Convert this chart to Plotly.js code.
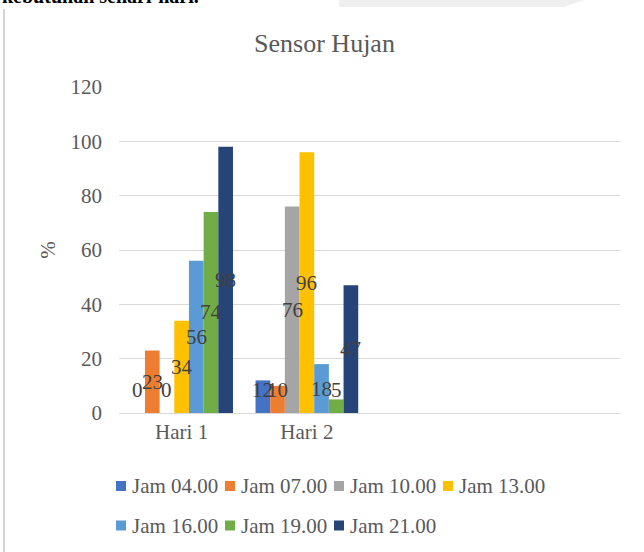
<!DOCTYPE html>
<html>
<head>
<meta charset="utf-8">
<script src="https://cdn.plot.ly/plotly-3.0.1.min.js"></script>
<style>html,body{margin:0;padding:0;background:#fff;}#chart{width:644px;height:552px;}</style>
</head>
<body>
<div id="chart"></div>
<script>
// ---- data ----
const categories = ["Hari 1", "Hari 2"];
const seriesNames = ["Jam 04.00", "Jam 07.00", "Jam 10.00", "Jam 13.00", "Jam 16.00", "Jam 19.00", "Jam 21.00"];
const jam0400 = [0, 12];
const jam0700 = [23, 10];
const jam1000 = [0, 76];
const jam1300 = [34, 96];
const jam1600 = [56, 18];
const jam1900 = [74, 5];
const jam2100 = [98, 47];
const yTicks = [0, 20, 40, 60, 80, 100, 120];

const seriesValues = [jam0400, jam0700, jam1000, jam1300, jam1600, jam1900, jam2100];
const colors = ["#4472C4", "#ED7D31", "#A5A5A5", "#FFC000", "#5B9BD5", "#70AD47", "#264478"];

// ---- layout geometry ----
const W = 644, H = 552;
const M = {l: 119, r: 24, t: 87, b: 139};
const pw = W - M.l - M.r, ph = H - M.t - M.b;
const px = x => (x - M.l) / pw;
const py = y => (H - M.b - y) / ph;
const nSlots = 4, bargap = 0.18;
const barPx = (pw / nSlots) * (1 - bargap) / seriesValues.length;

const serif = "'Liberation Serif', 'Times New Roman', serif";
const textGray = "#595959";

const traces = seriesValues.map((vals, i) => ({
  type: "bar",
  name: seriesNames[i],
  x: categories,
  y: vals,
  marker: {color: colors[i]},
  hoverinfo: "none",
  showlegend: false
}));

const annotations = [];
const shapes = [];

// data labels (centred in bars, kept clear of the axis like the source)
seriesValues.forEach((vals, i) => {
  vals.forEach((v, j) => {
    annotations.push({
      x: categories[j], y: Math.max(v / 2, 8.5), xref: "x", yref: "y",
      text: String(v), showarrow: false,
      xshift: (i - (seriesValues.length - 1) / 2) * barPx,
      font: {family: serif, size: 21, color: "#404040"}
    });
  });
});

// legend (Excel-style: small square close to its label, 4 per row)
const legX0 = 116, legStep = 109, legRowY = [486, 525.5], sq = 10, perRow = 4;
seriesNames.forEach((name, i) => {
  const col = i % perRow, row = Math.floor(i / perRow);
  const x = legX0 + col * legStep, yc = legRowY[row];
  shapes.push({type: "rect", xref: "paper", yref: "paper",
    x0: px(x), x1: px(x + sq), y0: py(yc + sq / 2), y1: py(yc - sq / 2),
    fillcolor: colors[i], line: {width: 0}});
  annotations.push({x: px(x + sq + 4), y: py(yc), xref: "paper", yref: "paper",
    xanchor: "left", yanchor: "middle", text: name, showarrow: false,
    font: {family: serif, size: 21, color: textGray}});
});

// cut-off document text above the chart
annotations.push({
  x: px(0), y: py(9), xref: "paper", yref: "paper", xanchor: "left", yanchor: "bottom",
  text: "<b>kebutuhan sehari-hari.</b>", showarrow: false,
  font: {family: serif, size: 20, color: "#000"}
});

shapes.push(
  {type: "line", xref: "paper", yref: "paper", x0: px(4), x1: px(4), y0: py(9), y1: py(552),
   line: {color: "#d4d4d4", width: 2}},
  {type: "path", xref: "paper", yref: "paper",
   path: `M ${px(339)},${py(0)} L ${px(584)},${py(0)} L ${px(564)},${py(7)} L ${px(339)},${py(7)} Z`,
   fillcolor: "#efefef", line: {width: 0}}
);

const layout = {
  width: W, height: H,
  margin: M,
  paper_bgcolor: "#fff", plot_bgcolor: "#fff",
  title: {text: "Sensor Hujan", x: 324.5 / W, xref: "container", xanchor: "center", y: 1 - 43 / H, yanchor: "middle",
          font: {family: serif, size: 26, color: textGray}},
  font: {family: serif, size: 21, color: textGray},
  barmode: "group", bargap: bargap, bargroupgap: 0,
  xaxis: {type: "category", categoryorder: "array", categoryarray: categories,
          range: [-0.5, nSlots - 0.5], showgrid: false, showline: true, linecolor: "#d9d9d9", linewidth: 1,
          ticks: "", zeroline: false, tickfont: {family: serif, size: 21, color: textGray}, fixedrange: true},
  yaxis: {range: [0, 120], tickvals: yTicks, ticktext: yTicks.map(String), showgrid: true, gridcolor: "#d9d9d9",
          gridwidth: 1, zeroline: false, showline: false, ticks: "", ticklabelstandoff: 16,
          tickfont: {family: serif, size: 21, color: textGray},
          title: {text: "%", standoff: 9, font: {family: serif, size: 21, color: textGray}}, fixedrange: true},
  showlegend: false,
  shapes: shapes,
  annotations: annotations
};

Plotly.newPlot("chart", traces, layout, {displayModeBar: false, staticPlot: true});
</script>
</body>
</html>
